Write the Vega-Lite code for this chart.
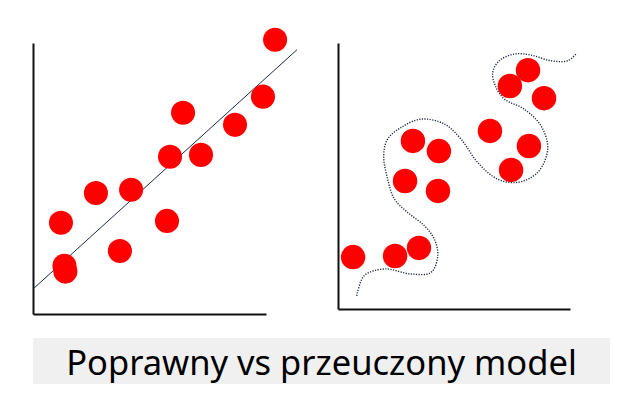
{
  "$schema": "https://vega.github.io/schema/vega-lite/v6.json",
  "description": "Poprawny vs przeuczony model: dopasowanie liniowe i przeuczona krzywa.",
  "padding": {"left": 31, "top": 27, "right": 0, "bottom": 0},
  "background": "white",
  "bounds": "full",
  "spacing": 24,
  "config": {
    "view": {"stroke": null},
    "axis": {
      "domainColor": "#111111",
      "domainWidth": 2,
      "ticks": false,
      "labels": false,
      "grid": false,
      "title": null
    }
  },
  "datasets": {
    "fitPts": [
      {"x": 10.39, "y": 10.22},
      {"x": 9.87, "y": 8.1},
      {"x": 6.44, "y": 7.5},
      {"x": 8.67, "y": 7.05},
      {"x": 7.21, "y": 5.93},
      {"x": 5.88, "y": 5.86},
      {"x": 4.21, "y": 4.63},
      {"x": 2.7, "y": 4.51},
      {"x": 1.2, "y": 3.4},
      {"x": 5.75, "y": 3.47},
      {"x": 3.73, "y": 2.35},
      {"x": 1.35, "y": 1.8},
      {"x": 1.39, "y": 1.58}
    ],
    "fitLine": [
      {"x": 0, "y": 0.93},
      {"x": 11.33, "y": 9.85}
    ],
    "overPts": [
      {"x": 8.19, "y": 8.88},
      {"x": 7.41, "y": 8.29},
      {"x": 8.88, "y": 7.84},
      {"x": 6.55, "y": 6.62},
      {"x": 3.23, "y": 6.25},
      {"x": 4.35, "y": 5.87},
      {"x": 8.23, "y": 6.06},
      {"x": 7.46, "y": 5.17},
      {"x": 2.89, "y": 4.76},
      {"x": 4.31, "y": 4.39},
      {"x": 0.65, "y": 1.93},
      {"x": 2.46, "y": 1.97},
      {"x": 3.49, "y": 2.27}
    ],
    "overCurve": [
      {"i": 1, "x": 0.81, "y": 0.49},
      {"i": 2, "x": 1.13, "y": 1.24},
      {"i": 3, "x": 2.0, "y": 1.49},
      {"i": 4, "x": 3.15, "y": 1.3},
      {"i": 5, "x": 4.01, "y": 1.36},
      {"i": 6, "x": 4.3, "y": 1.98},
      {"i": 7, "x": 4.15, "y": 2.6},
      {"i": 8, "x": 3.72, "y": 3.1},
      {"i": 9, "x": 3.0, "y": 3.59},
      {"i": 10, "x": 2.43, "y": 4.09},
      {"i": 11, "x": 2.14, "y": 4.83},
      {"i": 12, "x": 1.97, "y": 5.7},
      {"i": 13, "x": 2.14, "y": 6.32},
      {"i": 14, "x": 2.72, "y": 6.75},
      {"i": 15, "x": 3.58, "y": 7.06},
      {"i": 16, "x": 4.58, "y": 6.88},
      {"i": 17, "x": 5.3, "y": 6.32},
      {"i": 18, "x": 6.02, "y": 5.45},
      {"i": 19, "x": 6.88, "y": 4.83},
      {"i": 20, "x": 7.75, "y": 4.71},
      {"i": 21, "x": 8.61, "y": 5.08},
      {"i": 22, "x": 9.04, "y": 5.95},
      {"i": 23, "x": 8.75, "y": 6.81},
      {"i": 24, "x": 8.03, "y": 7.43},
      {"i": 25, "x": 7.17, "y": 7.81},
      {"i": 26, "x": 6.78, "y": 8.3},
      {"i": 27, "x": 6.67, "y": 8.8},
      {"i": 28, "x": 6.95, "y": 9.23},
      {"i": 29, "x": 7.6, "y": 9.48},
      {"i": 30, "x": 8.32, "y": 9.44},
      {"i": 31, "x": 9.18, "y": 9.23},
      {"i": 32, "x": 9.9, "y": 9.23},
      {"i": 33, "x": 10.29, "y": 9.51}
    ]
  },
  "vconcat": [
    {
      "hconcat": [
        {
          "width": 233,
          "height": 271,
          "layer": [
            {
              "data": {"name": "fitLine"},
              "mark": {"type": "line", "color": "#1c2a48", "strokeWidth": 1},
              "encoding": {
                "x": {"field": "x", "type": "quantitative", "scale": {"domain": [0, 10], "nice": false, "zero": false}, "axis": {"orient": "bottom"}},
                "y": {"field": "y", "type": "quantitative", "scale": {"domain": [0, 10.1], "nice": false, "zero": false}, "axis": {"orient": "left"}}
              }
            },
            {
              "data": {"name": "fitPts"},
              "mark": {"type": "circle", "size": 580, "color": "#ff0000", "opacity": 1},
              "encoding": {
                "x": {"field": "x", "type": "quantitative"},
                "y": {"field": "y", "type": "quantitative"}
              }
            }
          ]
        },
        {
          "width": 232,
          "height": 266,
          "layer": [
            {
              "data": {"name": "overCurve"},
              "mark": {"type": "line", "color": "#1f2a45", "strokeWidth": 1.4, "strokeDash": [1.2, 1.4], "interpolate": "catmull-rom"},
              "encoding": {
                "x": {"field": "x", "type": "quantitative", "scale": {"domain": [0, 10], "nice": false, "zero": false}, "axis": {"orient": "bottom"}},
                "y": {"field": "y", "type": "quantitative", "scale": {"domain": [0, 9.89], "nice": false, "zero": false}, "axis": {"orient": "left"}},
                "order": {"field": "i", "type": "quantitative"}
              }
            },
            {
              "data": {"name": "overPts"},
              "mark": {"type": "circle", "size": 600, "color": "#ff0000", "opacity": 1},
              "encoding": {
                "x": {"field": "x", "type": "quantitative"},
                "y": {"field": "y", "type": "quantitative"}
              }
            }
          ]
        }
      ],
      "spacing": 72,
      "bounds": "flush"
    },
    {
      "width": 577,
      "height": 46,
      "view": {"fill": "#f0f0f0", "stroke": null},
      "data": {"values": [{"caption": "Poprawny vs przeuczony model"}]},
      "mark": {"type": "text", "font": "Noto Sans", "fontSize": 34.5, "color": "#000000", "baseline": "alphabetic", "align": "center", "dy": 14},
      "encoding": {
        "text": {"field": "caption", "type": "nominal"}
      }
    }
  ]
}
